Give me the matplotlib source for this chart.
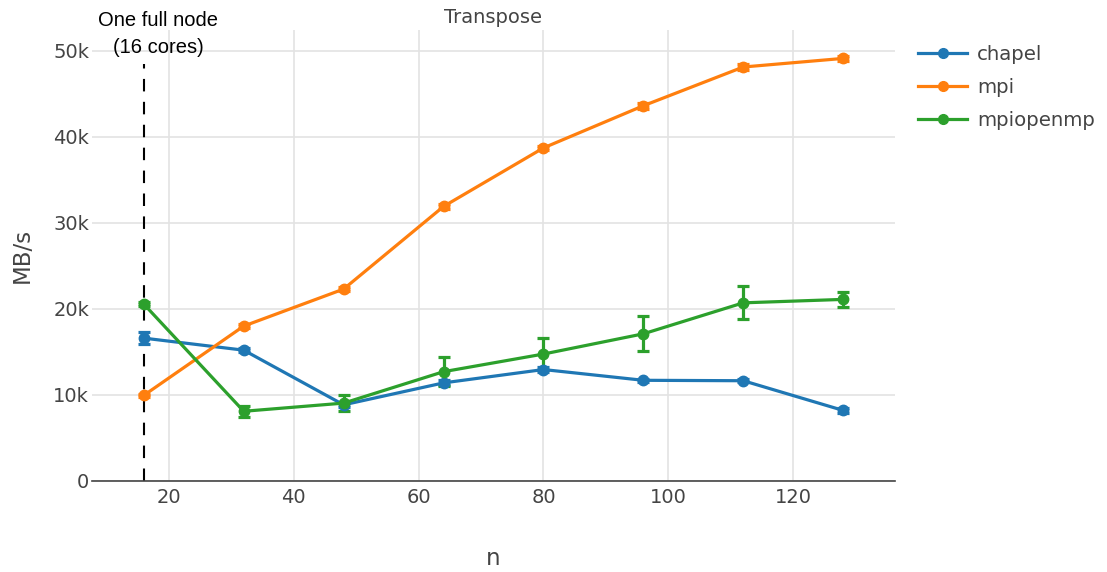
import matplotlib.pyplot as plt
from matplotlib.lines import Line2D

# cores
n = [16, 32, 48, 64, 80, 96, 112, 128]

# MB/s
chapel = [16600, 15200, 8850, 11400, 12950, 11700, 11650, 8200]
chapel_err = [700, 250, 300, 300, 250, 200, 200, 250]
mpi = [9950, 18000, 22300, 31900, 38700, 43600, 48100, 49100]
mpi_err = [200, 250, 250, 250, 250, 350, 400, 300]
mpiopenmp = [20550, 8100, 9050, 12700, 14750, 17100, 20700, 21100]
mpiopenmp_err = [250, 650, 950, 1650, 1850, 2050, 1900, 850]

colors = ['#1f77b4', '#ff7f0e', '#2ca02c']
series = [('chapel', chapel, chapel_err),
          ('mpi', mpi, mpi_err),
          ('mpiopenmp', mpiopenmp, mpiopenmp_err)]

plt.rcParams['font.family'] = ['DejaVu Sans']

fig = plt.figure(figsize=(11.07, 5.72), dpi=100)
ax = fig.add_axes([92 / 1107, 91 / 572, 803 / 1107, 451 / 572])

handles = []
for (name, vals, err), c in zip(series, colors):
    ax.errorbar(n, vals, yerr=err, color=c, lw=2.3, marker='o', ms=7.5,
                capsize=4.5, capthick=2.3, elinewidth=2.3, zorder=3)
    handles.append(Line2D([], [], color=c, lw=2.3, marker='o', ms=7, label=name))

# one full node marker
ax.plot([16, 16], [0, 48500], color='black', lw=1.5, ls=(0, (6, 5)), zorder=2)
ax.text(18.3, 51950, 'One full node\n(16 cores)', ha='center', va='center',
        fontsize=14.5, family=['Liberation Sans'], color='black',
        linespacing=1.5, zorder=4)

ax.set_xlim(7.7, 136.3)
ax.set_ylim(0, 52400)
ax.set_xticks([20, 40, 60, 80, 100, 120])
ax.set_yticks([0, 10000, 20000, 30000, 40000, 50000])
ax.set_yticklabels(['0', '10k', '20k', '30k', '40k', '50k'])
ax.grid(True, color='#e3e3e3', lw=1.2, zorder=0)
ax.set_axisbelow(True)
for s in ['top', 'right', 'left']:
    ax.spines[s].set_visible(False)
ax.spines['bottom'].set_color('#444444')
ax.spines['bottom'].set_linewidth(1.2)
ax.tick_params(axis='both', length=0, labelsize=14, colors='#444444')
ax.tick_params(axis='y', pad=2)
ax.tick_params(axis='x', pad=5)

ax.set_title('Transpose', fontsize=14, color='#444444', pad=0,
             y=1.0288, va='center')
ax.set_xlabel('n', fontsize=16.5, color='#444444')
ax.set_ylabel('MB/s', fontsize=16.5, color='#444444')
ax.xaxis.set_label_coords(0.5, -0.171)
ax.yaxis.set_label_coords(-0.087, 0.5)
ax.xaxis.label.set_va('center')
ax.yaxis.label.set_va('center')

fig.legend(handles=handles, loc='upper left',
           bbox_to_anchor=(918 / 1107, 1 - 45 / 572), frameon=False,
           fontsize=14.2, handlelength=2.5, handletextpad=0.5,
           labelcolor='#444444', borderpad=0, borderaxespad=0,
           labelspacing=0.7)

fig.savefig('out.png', dpi=100)
